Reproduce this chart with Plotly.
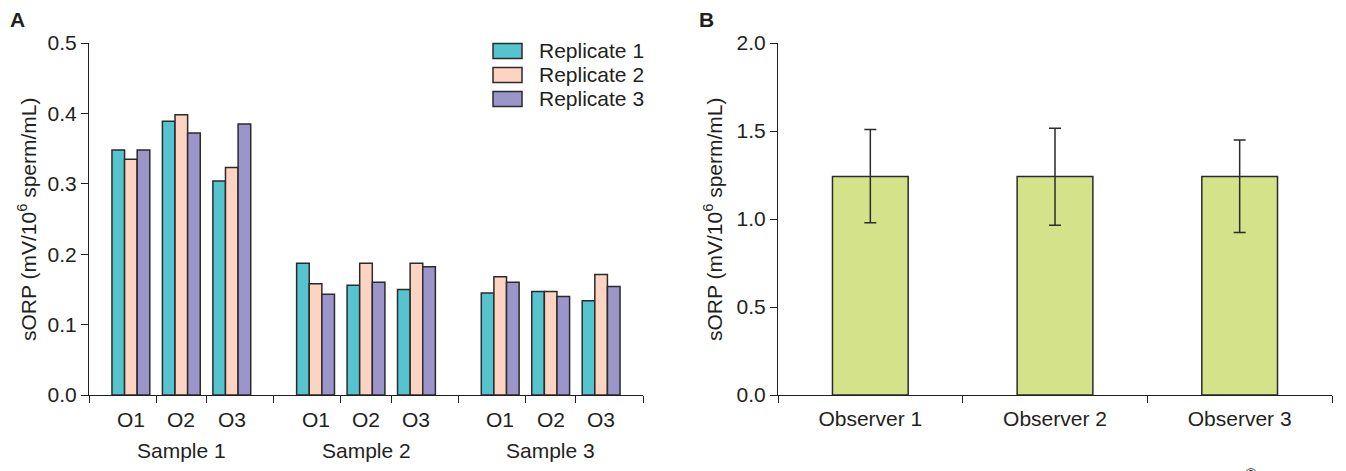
import plotly.graph_objects as go

# ---------------- data ----------------
samples = ["Sample 1", "Sample 2", "Sample 3"]
observers = ["O1", "O2", "O3"]
replicates = ["Replicate 1", "Replicate 2", "Replicate 3"]

# sORP per replicate, ordered Sample1(O1,O2,O3), Sample2(...), Sample3(...)
rep1 = [0.348, 0.389, 0.304, 0.187, 0.156, 0.150, 0.145, 0.147, 0.134]
rep2 = [0.335, 0.398, 0.323, 0.158, 0.187, 0.187, 0.168, 0.147, 0.171]
rep3 = [0.348, 0.372, 0.385, 0.143, 0.160, 0.182, 0.160, 0.140, 0.154]

observer_names = ["Observer 1", "Observer 2", "Observer 3"]
observer_mean = [1.242, 1.242, 1.242]
observer_err_plus = [0.267, 0.273, 0.207]
observer_err_minus = [0.263, 0.278, 0.318]

# ---------------- styling ----------------
W, H = 1346, 471
TEXT = "#231f20"
FONT = "Liberation Sans, Arial, sans-serif"
FS = 21
rep_colors = ["#55c4cf", "#fdd3c1", "#9b95c9"]
obs_color = "#d4e28a"
EDGE = "#2b2b2b"

# pixel layout of the two plotting areas
A_x0, A_x1 = 89, 643
B_x0, B_x1 = 778, 1332
Y_top, Y_bot = 43, 395


def px_x(p):
    return p / W


def px_y(p):
    return (H - p) / H


def label(x, y, text, xref="paper", **kw):
    d = dict(x=x, y=y, xref=xref, yref="paper", text=text, showarrow=False,
             xanchor="center", yanchor="middle",
             font=dict(family=FONT, size=FS, color=TEXT))
    d.update(kw)
    return d


# x positions of the grouped bars in panel A
G = 3.66                      # distance between sample groups
pad = (G - 2) / 2             # space between a group's outer bar and its border
xpos = [s * G + o for s in range(len(samples)) for o in range(len(observers))]

fig = go.Figure()

for name, vals, col in zip(replicates, [rep1, rep2, rep3], rep_colors):
    fig.add_trace(go.Bar(
        x=xpos, y=vals, name=name, marker=dict(color=col, line=dict(color=EDGE, width=1.5)),
        xaxis="x", yaxis="y", showlegend=False,
    ))

fig.add_trace(go.Bar(
    x=observer_names, y=observer_mean,
    marker=dict(color=obs_color, line=dict(color=EDGE, width=1.5)),
    error_y=dict(type="data", symmetric=False, array=observer_err_plus,
                 arrayminus=observer_err_minus, color=EDGE, thickness=1.5, width=6),
    xaxis="x2", yaxis="y2", showlegend=False, width=0.41,
))

# tick marks on panel A sit on group and observer borders
tick_pos = []
for s in range(len(samples)):
    tick_pos += [s * G - pad, s * G + 0.5, s * G + 1.5]
tick_pos.append((len(samples) - 1) * G + 2 + pad)

axis_common = dict(showline=True, linecolor=TEXT, linewidth=1.2, ticks="outside",
                   tickcolor=TEXT, tickwidth=1.2, ticklen=7, showgrid=False, zeroline=False,
                   automargin=False, tickfont=dict(family=FONT, size=FS, color=TEXT))

annotations = []
# observer and sample labels for panel A
for s, sname in enumerate(samples):
    for o, oname in enumerate(observers):
        annotations.append(label(s * G + o, px_y(419), oname, xref="x"))
    annotations.append(label(s * G + 1, px_y(450), sname, xref="x"))

ytitle = "sORP (mV/10<sup>6</sup> sperm/mL)"
for xp in (27, 713):
    annotations.append(label(px_x(xp), px_y((Y_top + Y_bot) / 2), ytitle, textangle=-90))

# panel letters
for letter, xp in (("A", 17), ("B", 706)):
    annotations.append(label(px_x(xp), px_y(20), f"<b>{letter}</b>"))

# legend drawn as swatches with labels
shapes = []
leg_rows = [51, 75, 99]
for name, col, yc in zip(replicates, rep_colors, leg_rows):
    shapes.append(dict(type="rect", xref="paper", yref="paper",
                       x0=px_x(493), x1=px_x(522), y0=px_y(yc + 7.5), y1=px_y(yc - 7.5),
                       fillcolor=col, line=dict(color=EDGE, width=1.5)))
    annotations.append(label(px_x(537), px_y(yc), name, xanchor="left"))

# copyright mark at the lower edge
annotations.append(label(px_x(1251), px_y(474), "©", font=dict(family=FONT, size=16, color=TEXT)))

fig.update_layout(
    width=W, height=H, margin=dict(l=0, r=0, t=0, b=0, autoexpand=False),
    paper_bgcolor="white", plot_bgcolor="white",
    barmode="group", bargap=0.25, bargroupgap=0,
    font=dict(family=FONT, size=FS, color=TEXT),
    xaxis=dict(domain=[px_x(A_x0), px_x(A_x1)], range=[-pad, (len(samples) - 1) * G + 2 + pad],
               tickmode="array", tickvals=tick_pos, showticklabels=False, anchor="y", **axis_common),
    yaxis=dict(domain=[px_y(Y_bot), px_y(Y_top)], range=[0, 0.5], tickmode="linear", tick0=0,
               dtick=0.1, tickformat=".1f", anchor="x", **axis_common),
    xaxis2=dict(domain=[px_x(B_x0), px_x(B_x1)], type="category", tickson="boundaries",
                ticklabelstandoff=5, anchor="y2", **axis_common),
    yaxis2=dict(domain=[px_y(Y_bot), px_y(Y_top)], range=[0, 2.0], tickmode="linear", tick0=0,
                dtick=0.5, tickformat=".1f", anchor="x2", **axis_common),
    annotations=annotations, shapes=shapes,
)

fig.write_html("out.html")
